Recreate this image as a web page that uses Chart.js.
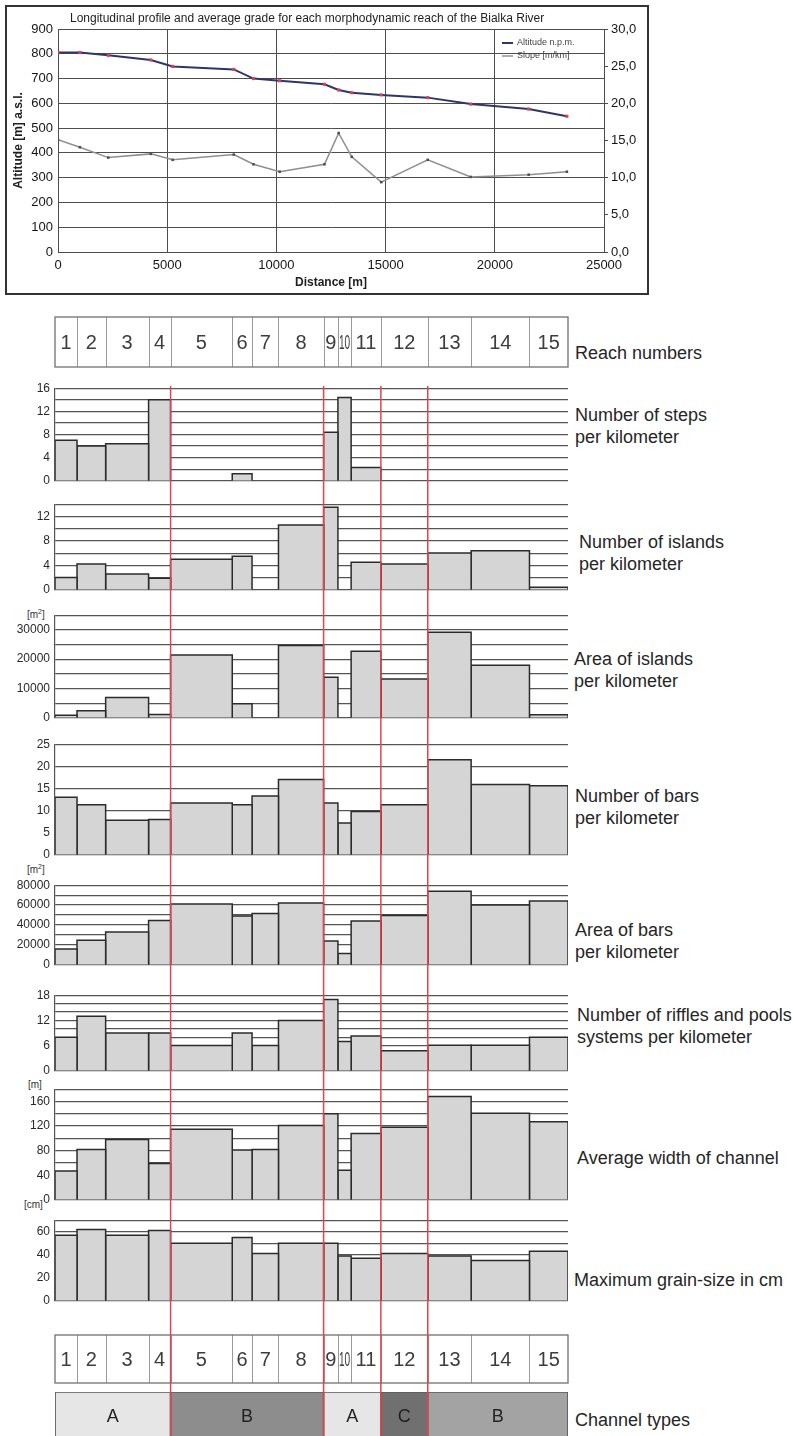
<!DOCTYPE html>
<html>
<head>
<meta charset="utf-8">
<title>Białka River – morphodynamic reaches</title>
<script src="https://cdn.jsdelivr.net/npm/chart.js@4.4.1/dist/chart.umd.min.js"></script>
<style>
  html, body { margin: 0; padding: 0; background: #fff; }
  body { width: 793px; height: 1436px; position: relative; overflow: hidden;
         font-family: "Liberation Sans", Arial, Helvetica, sans-serif; color: #2a2a2a; }
  #frame { position: absolute; left: 5px; top: 5px; width: 640px; height: 286px; border: 2px solid #333; }
  .lbl { position: absolute; font-size: 18px; line-height: 22px; white-space: nowrap; color: #262626; }
  .unit { position: absolute; font-size: 10px; line-height: 12px; color: #333; white-space: nowrap; }
</style>
</head>
<body>
<div id="frame"></div>

<div class="lbl" style="left:575px;top:342px">Reach numbers</div>
<div class="lbl" style="left:575px;top:404px">Number of steps<br>per kilometer</div>
<div class="lbl" style="left:579px;top:531px">Number of islands<br>per kilometer</div>
<div class="lbl" style="left:574px;top:648px">Area of islands<br>per kilometer</div>
<div class="lbl" style="left:575px;top:785px">Number of bars<br>per kilometer</div>
<div class="lbl" style="left:575px;top:919px">Area of bars<br>per kilometer</div>
<div class="lbl" style="left:577px;top:1004px">Number of riffles and pools<br>systems per kilometer</div>
<div class="lbl" style="left:577px;top:1147px">Average width of channel</div>
<div class="lbl" style="left:574px;top:1269px">Maximum grain-size in cm</div>
<div class="lbl" style="left:575px;top:1409px">Channel types</div>

<div class="unit" style="left:27px;top:606px">[m<sup style="font-size:7px">2</sup>]</div>
<div class="unit" style="left:27px;top:861px">[m<sup style="font-size:7px">2</sup>]</div>
<div class="unit" style="left:28px;top:1079px">[m]</div>
<div class="unit" style="left:24px;top:1199px">[cm]</div>

<script>
// ---- data -------------------------------------------------------------
const reachNumbers = ['1','2','3','4','5','6','7','8','9','10','11','12','13','14','15'];
// reach boundaries along the river [m]
const reachBounds = [0, 1000, 2300, 4250, 5250, 8050, 8950, 10150, 12200, 12850, 13450, 14800, 16930, 18900, 21550, 23300];
// longitudinal profile at reach boundaries
const altitude = [805, 805, 794, 775, 749, 737, 700, 691, 677, 654, 643, 634, 623, 597, 577, 548];
const slope    = [15.1, 14.1, 12.7, 13.2, 12.4, 13.1, 11.8, 10.8, 11.8, 16.0, 12.8, 9.4, 12.4, 10.1, 10.4, 10.8];
// per-reach characteristics (reaches 1..15)
const stepsPerKm      = [7, 6, 6.4, 14, 0, 1.2, 0, 0, 8.4, 14.4, 2.3, 0, 0, 0, 0];
const islandsPerKm    = [2, 4.2, 2.6, 1.9, 5, 5.5, 0, 10.6, 13.5, 0, 4.5, 4.2, 6, 6.4, 0.4];
const islandAreaPerKm = [900, 2400, 6900, 1100, 21400, 4800, 0, 24700, 13800, 0, 22700, 13200, 29200, 17900, 1000];
const barsPerKm       = [13, 11.3, 7.8, 8, 11.7, 11.3, 13.3, 17, 11.7, 7.2, 9.8, 11.3, 21.5, 15.9, 15.6];
const barAreaPerKm    = [16000, 24700, 33000, 44500, 61000, 49000, 51500, 62000, 23800, 11400, 44000, 49500, 74000, 60000, 64000];
const rifflesPerKm    = [8, 13, 9, 9, 6, 9, 6, 12, 17, 7, 8.3, 4.8, 6.1, 6.1, 8];
const channelWidth    = [47, 82, 98, 59, 115, 81, 82, 121, 140, 48, 108, 118, 168, 141, 127];
const maxGrainCm      = [57, 62, 57, 61, 50, 55, 41, 50, 50, 39, 37, 41, 39, 35, 43];
// channel types and their extent [m]
const channelTypes      = ['A', 'B', 'A', 'C', 'B'];
const channelTypeBounds = [0, 5250, 12200, 14800, 16930, 23300];

// ---- styling ----------------------------------------------------------
const FONT = '"Liberation Sans", Arial, Helvetica, sans-serif';
const typeColors = ['#e6e6e6', '#8d8d8d', '#e6e6e6', '#707070', '#a3a3a3'];
Chart.defaults.font.family = FONT;
Chart.defaults.color = '#2a2a2a';
Chart.defaults.animation = false;
Chart.defaults.events = [];
Chart.defaults.plugins.legend.display = false;
Chart.defaults.plugins.tooltip.enabled = false;

function makeCanvas(left, top, w, h, parent, z) {
  const c = document.createElement('canvas');
  c.width = w; c.height = h;
  c.style.cssText = `position:absolute;left:${left}px;top:${top}px;width:${w}px;height:${h}px;` + (z ? `z-index:${z};pointer-events:none;` : '');
  (parent || document.body).appendChild(c);
  return c;
}

// ---- longitudinal profile --------------------------------------------
const profileHeader = {
  id: 'profileHeader',
  afterDraw(chart) {
    const ctx = chart.ctx;
    ctx.save();
    ctx.fillStyle = '#1e1e1e';
    ctx.font = `12px ${FONT}`;
    ctx.textAlign = 'left';
    ctx.textBaseline = 'middle';
    ctx.fillText('Longitudinal profile and average grade for each morphodynamic reach of the Bialka River', 63, 12);
    ctx.font = `9px ${FONT}`;
    chart.data.datasets.forEach((ds, i) => {
      const y = 36 + i * 13;
      ctx.strokeStyle = ds.borderColor;
      ctx.lineWidth = ds.borderWidth;
      ctx.beginPath(); ctx.moveTo(495, y); ctx.lineTo(506, y); ctx.stroke();
      ctx.fillStyle = '#444';
      ctx.fillText(ds.label, 510, y);
    });
    ctx.restore();
  }
};

new Chart(makeCanvas(0, 0, 640, 286, document.getElementById('frame')), {
  type: 'line',
  data: {
    datasets: [
      { label: 'Altitude n.p.m.', data: reachBounds.map((d, i) => ({ x: d, y: altitude[i] })), yAxisID: 'y',
        borderColor: '#2e3668', borderWidth: 2, tension: 0,
        pointRadius: 2.2, pointStyle: 'rect', pointBackgroundColor: '#d9434f', pointBorderWidth: 0 },
      { label: 'Slope [m/km]', data: reachBounds.map((d, i) => ({ x: d, y: slope[i] })), yAxisID: 'y1',
        borderColor: '#8f8f8f', borderWidth: 1.5, tension: 0,
        pointRadius: 1.8, pointStyle: 'rect', pointBackgroundColor: '#505050', pointBorderWidth: 0 }
    ]
  },
  options: {
    responsive: false, devicePixelRatio: 1,
    layout: { padding: { top: 22, left: 0, right: 0, bottom: 0 } },
    scales: {
      x: { type: 'linear', min: 0, max: 25000,
           afterFit: s => { s.height = 41; },
           ticks: { stepSize: 5000, callback: v => String(v), font: { size: 13 }, color: '#151515', padding: 6, maxRotation: 0 },
           grid: { color: '#4d4d4d', lineWidth: 1, drawTicks: false }, border: { color: '#4d4d4d' },
           title: { display: true, text: 'Distance [m]', font: { size: 12, weight: 'bold' }, color: '#1e1e1e', padding: { top: 1, bottom: 3 } } },
      y: { position: 'left', min: 0, max: 900,
           afterFit: s => { s.width = 51; },
           ticks: { stepSize: 100, font: { size: 13 }, color: '#151515', padding: 5 },
           grid: { color: '#4d4d4d', lineWidth: 1, drawTicks: false }, border: { color: '#4d4d4d' },
           title: { display: true, text: 'Altitude [m] a.s.l.', font: { size: 12, weight: 'bold' }, color: '#1e1e1e', padding: { top: 4, bottom: 0 } } },
      y1: { position: 'right', min: 0, max: 30,
            afterFit: s => { s.width = 43; },
            ticks: { stepSize: 5, callback: v => v.toFixed(1).replace('.', ','), font: { size: 13 }, color: '#151515', padding: 3 },
            grid: { drawOnChartArea: false, tickLength: 4, color: '#4d4d4d' }, border: { color: '#4d4d4d' } }
    }
  },
  plugins: [profileHeader]
});

// ---- reach-number strips ---------------------------------------------
const reachBox = {
  id: 'reachBox',
  afterDraw(chart) {
    const { ctx, chartArea: a, scales: { x } } = chart;
    ctx.save();
    ctx.strokeStyle = '#9a9a9a'; ctx.lineWidth = 1;
    for (let i = 1; i < reachBounds.length - 1; i++) {
      const px = Math.round(x.getPixelForValue(reachBounds[i])) + 0.5;
      ctx.beginPath(); ctx.moveTo(px, a.top); ctx.lineTo(px, a.bottom); ctx.stroke();
    }
    ctx.strokeStyle = '#707070'; ctx.lineWidth = 1.3;
    ctx.strokeRect(a.left, a.top, a.right - a.left, a.bottom - a.top);
    ctx.fillStyle = '#3d3d3d';
    ctx.font = `20px ${FONT}`;
    ctx.textAlign = 'center'; ctx.textBaseline = 'middle';
    reachNumbers.forEach((n, i) => {
      const l = x.getPixelForValue(reachBounds[i]), r = x.getPixelForValue(reachBounds[i + 1]);
      const w = ctx.measureText(n).width, avail = r - l - 2;
      const sx = w > avail ? avail / w : 1;
      ctx.save();
      ctx.translate((l + r) / 2, (a.top + a.bottom) / 2 + 1);
      ctx.scale(sx, 1);
      ctx.fillText(n, 0, 0);
      ctx.restore();
    });
    ctx.restore();
  }
};

function reachStrip(top, height) {
  new Chart(makeCanvas(0, top - 5, 793, height + 10), {
    type: 'line',
    data: { datasets: [] },
    options: {
      responsive: false, devicePixelRatio: 1,
      layout: { padding: { left: 55, right: 225, top: 5, bottom: 5 } },
      scales: { x: { type: 'linear', min: 0, max: 23300, display: false }, y: { display: false, min: 0, max: 1 } }
    },
    plugins: [reachBox]
  });
}
reachStrip(317, 50);
reachStrip(1335, 48);

// ---- per-reach histograms ---------------------------------------------
const panels = [
  { values: stepsPerKm,      max: 16,    step: 2,     every: 4,     top: 386,  bottom: 483 },
  { values: islandsPerKm,    max: 14,    step: 2,     every: 4,     top: 502,  bottom: 592 },
  { values: islandAreaPerKm, max: 35000, step: 5000,  every: 10000, top: 613,  bottom: 720 },
  { values: barsPerKm,       max: 25,    step: 5,     every: 5,     top: 742,  bottom: 857 },
  { values: barAreaPerKm,    max: 80000, step: 10000, every: 20000, top: 883,  bottom: 967 },
  { values: rifflesPerKm,    max: 18,    step: 2,     every: 6,     top: 993,  bottom: 1073 },
  { values: channelWidth,    max: 180,   step: 20,    every: 40,    top: 1087, bottom: 1202 },
  { values: maxGrainCm,      max: 70,    step: 10,    every: 20,    top: 1218, bottom: 1303 }
];

panels.forEach(p => {
  const h = p.bottom - p.top + 20;
  new Chart(makeCanvas(0, p.top - 10, 793, h), {
    type: 'line',
    data: {
      datasets: p.values.map((v, i) => ({
        data: v > 0 ? [
          { x: reachBounds[i], y: 0 }, { x: reachBounds[i], y: v },
          { x: reachBounds[i + 1], y: v }, { x: reachBounds[i + 1], y: 0 }
        ] : [],
        fill: 'origin', backgroundColor: '#d5d5d5', borderColor: '#2b2b2b', borderWidth: 1.5,
        borderJoinStyle: 'miter', pointRadius: 0, tension: 0
      }))
    },
    options: {
      responsive: false, devicePixelRatio: 1,
      layout: { padding: { left: 0, right: 225, top: 10, bottom: 10 } },
      scales: {
        x: { type: 'linear', min: 0, max: 23300, display: false },
        y: { min: 0, max: p.max,
             afterFit: s => { s.width = 55; },
             ticks: { stepSize: p.step, autoSkip: false, callback: v => (v % p.every === 0 ? String(v) : ''),
                      font: { size: 12 }, color: '#2a2a2a', padding: 5 },
             grid: { color: '#555', lineWidth: 1.2, drawTicks: false },
             border: { color: '#555', width: 1.2 } }
      }
    }
  });
});

// ---- channel types ------------------------------------------------------
const typeLetters = {
  id: 'typeLetters',
  afterDatasetsDraw(chart) {
    const ctx = chart.ctx;
    ctx.save();
    ctx.fillStyle = '#222';
    ctx.font = `18px ${FONT}`;
    ctx.textAlign = 'center'; ctx.textBaseline = 'middle';
    chart.data.datasets.forEach((ds, i) => {
      const el = chart.getDatasetMeta(i).data[0];
      ctx.fillText(ds.label, (el.x + el.base) / 2, 26);
    });
    ctx.restore();
  }
};

new Chart(makeCanvas(0, 1391, 793, 60), {
  type: 'bar',
  data: {
    labels: ['types'],
    datasets: channelTypes.map((t, i) => ({
      label: t,
      data: [[channelTypeBounds[i], channelTypeBounds[i + 1]]],
      backgroundColor: typeColors[i], borderColor: '#5a5a5a', borderWidth: 1.2, borderSkipped: false,
      grouped: false, barPercentage: 1, categoryPercentage: 1
    }))
  },
  options: {
    indexAxis: 'y', responsive: false, devicePixelRatio: 1,
    layout: { padding: { left: 55, right: 225, top: 1, bottom: 0 } },
    scales: { x: { type: 'linear', min: 0, max: 23300, display: false }, y: { display: false } }
  },
  plugins: [typeLetters]
});

// ---- channel-type boundaries across all panels ---------------------------
const typeBoundaryLines = {
  id: 'typeBoundaryLines',
  afterDraw(chart) {
    const { ctx, scales: { x } } = chart;
    ctx.save();
    ctx.strokeStyle = '#e24450'; ctx.lineWidth = 1.5;
    channelTypeBounds.slice(1, -1).forEach(b => {
      const px = x.getPixelForValue(b);
      ctx.beginPath(); ctx.moveTo(px, 0); ctx.lineTo(px, chart.height); ctx.stroke();
    });
    ctx.restore();
  }
};

new Chart(makeCanvas(0, 386, 793, 1050, null, 10), {
  type: 'line',
  data: { datasets: [] },
  options: {
    responsive: false, devicePixelRatio: 1,
    layout: { padding: { left: 55, right: 225, top: 0, bottom: 0 } },
    scales: { x: { type: 'linear', min: 0, max: 23300, display: false }, y: { display: false, min: 0, max: 1 } }
  },
  plugins: [typeBoundaryLines]
});
</script>
</body>
</html>
